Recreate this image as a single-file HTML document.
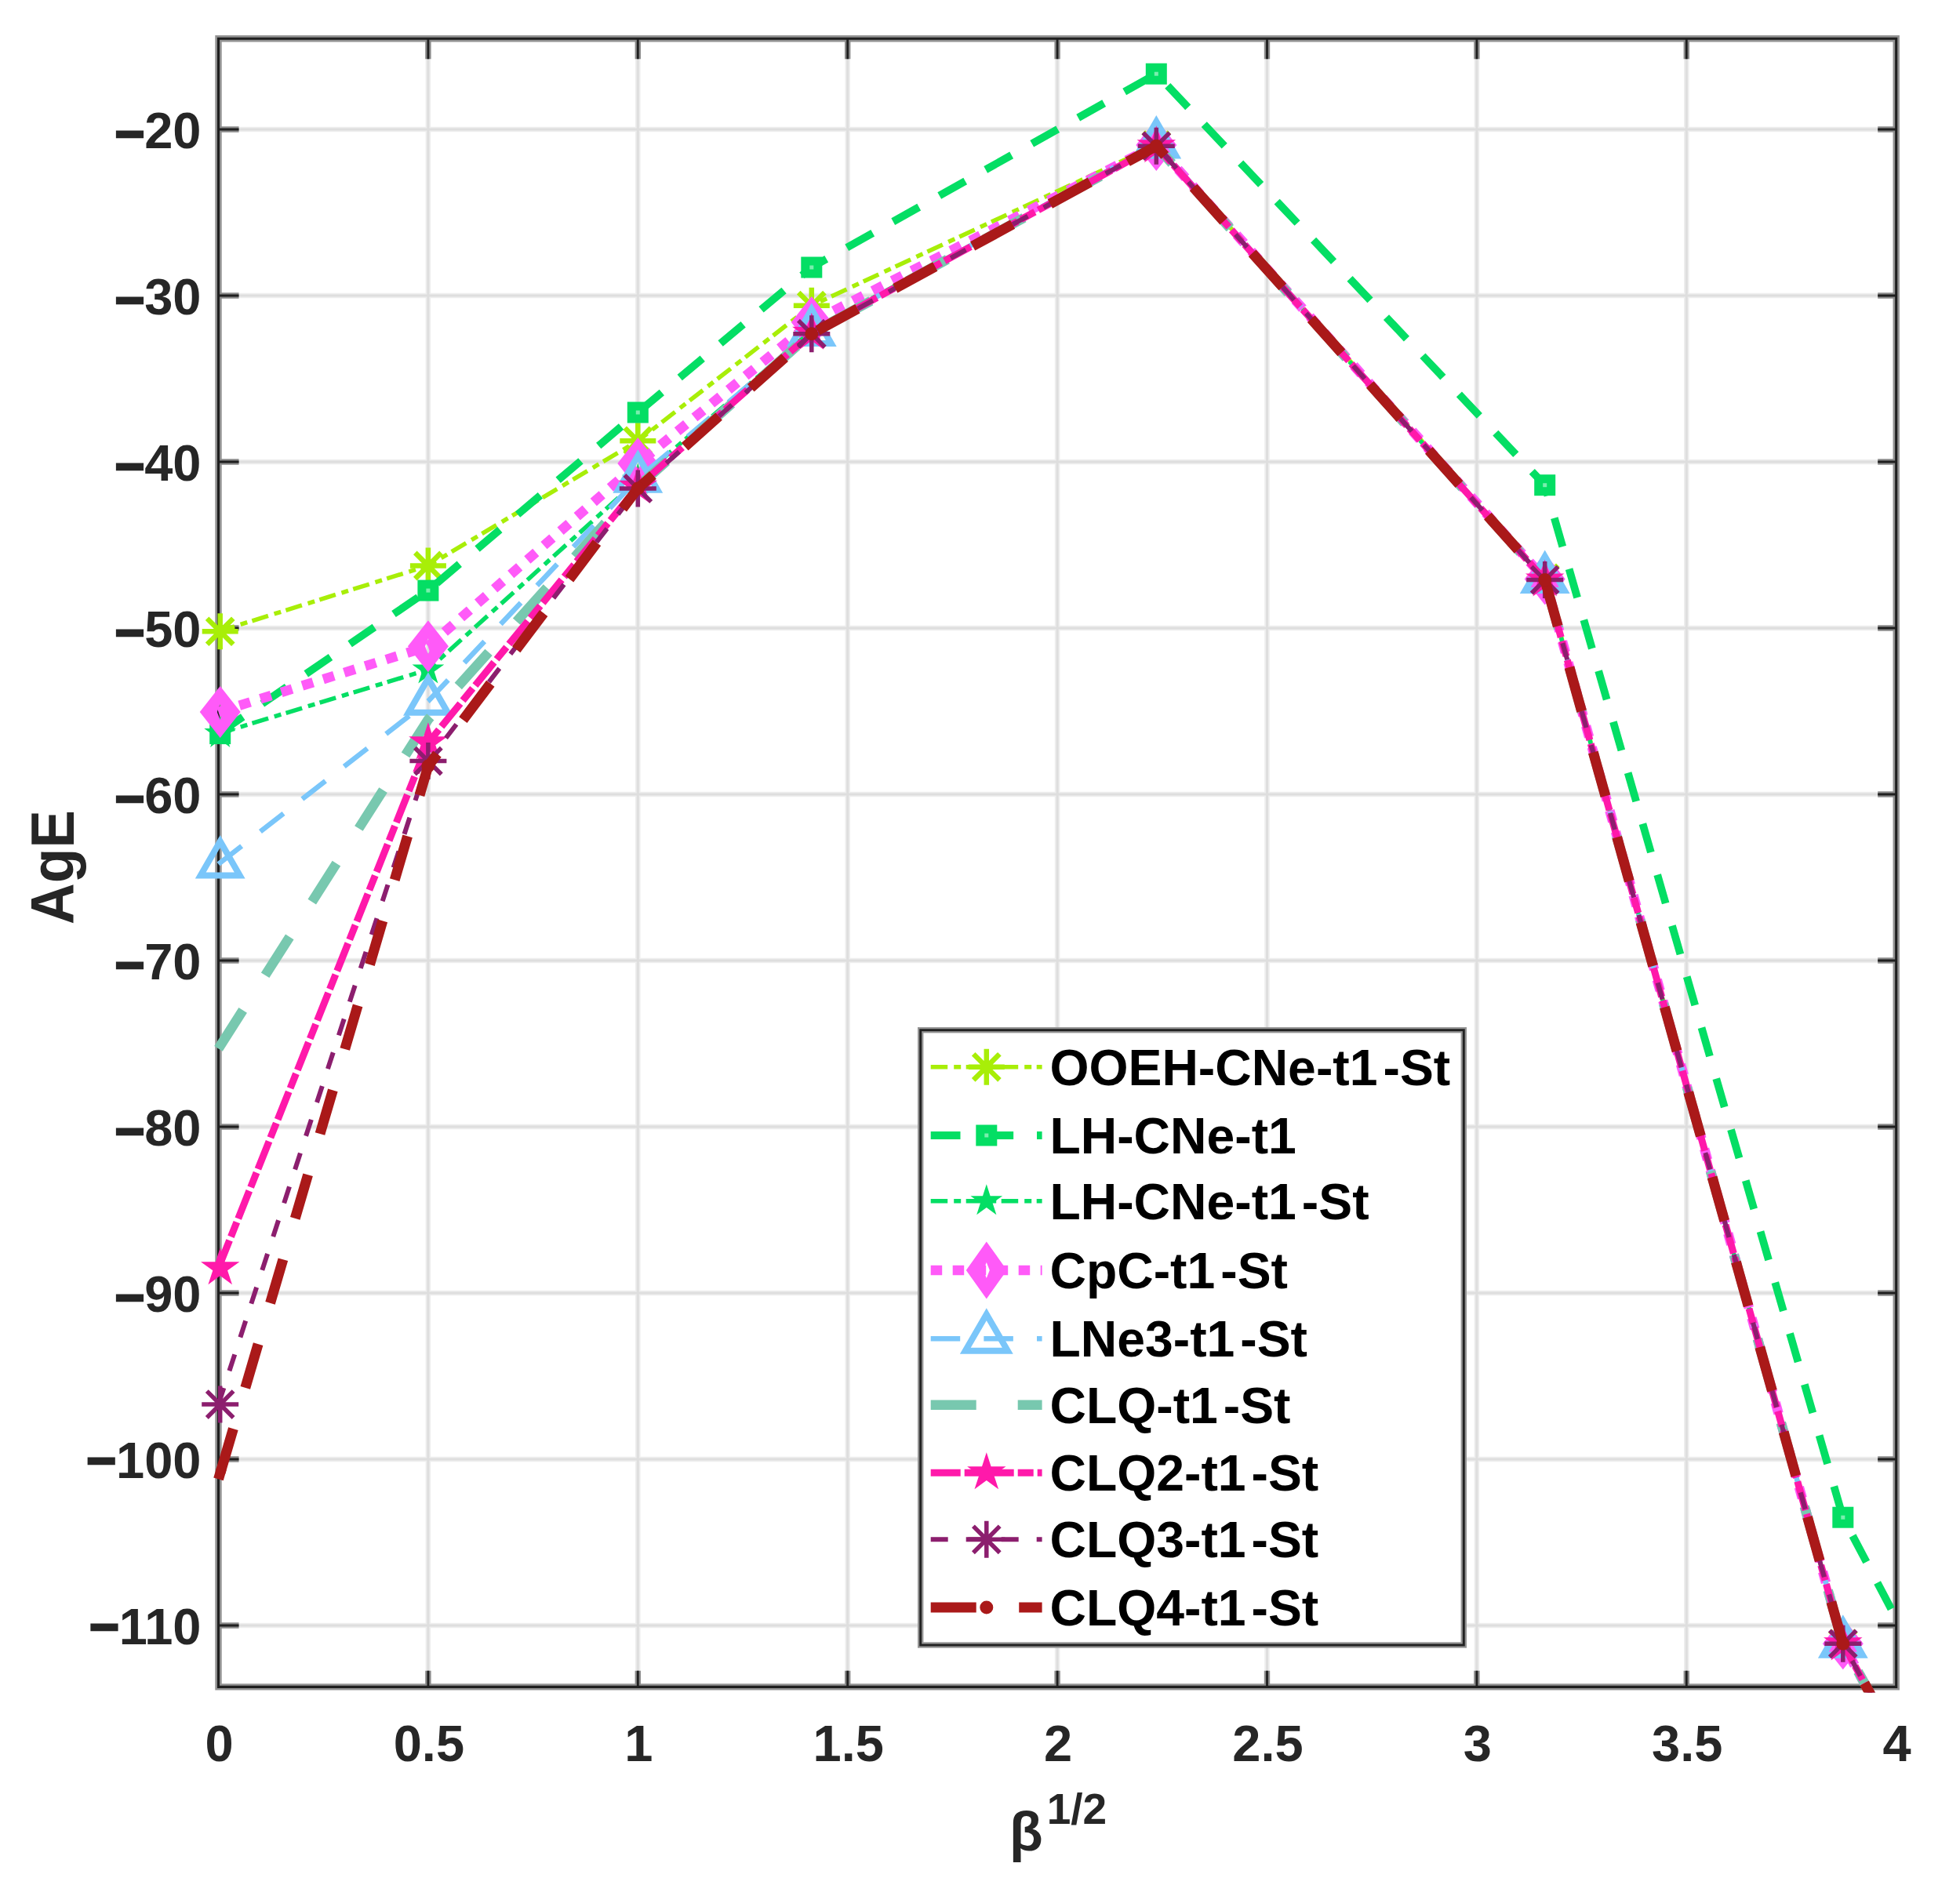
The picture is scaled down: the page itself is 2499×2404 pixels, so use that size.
<!DOCTYPE html>
<html lang="en"><head><meta charset="utf-8"><title>AgE vs sqrt(beta)</title>
<style>html,body{margin:0;padding:0;background:#fff}body{width:2499px;height:2404px;overflow:hidden}svg{display:block}text{font-family:"Liberation Sans", Arial, Helvetica, sans-serif;font-weight:bold}.tk{font-size:65px;fill:#262626}.lg{font-size:64.3px;fill:#000}</style></head><body>
<svg width="2499" height="2404" viewBox="0 0 2499 2404">
<rect width="2499" height="2404" fill="#fff"/>
<defs><clipPath id="cp"><rect x="270.5" y="46.3" width="2148.2" height="2112.1"/></clipPath></defs>
<path d="M545.9 49.3V2151.4M813.3 49.3V2151.4M1080.7 49.3V2151.4M1348.1 49.3V2151.4M1615.5 49.3V2151.4M1882.9 49.3V2151.4M2150.3 49.3V2151.4M278.5 2073H2417.7M278.5 1861H2417.7M278.5 1649H2417.7M278.5 1437H2417.7M278.5 1225H2417.7M278.5 1013H2417.7M278.5 801H2417.7M278.5 589H2417.7M278.5 377H2417.7M278.5 165H2417.7" stroke="#eeeeee" stroke-width="6.6" fill="none"/>
<path d="M545.9 49.3V2151.4M813.3 49.3V2151.4M1080.7 49.3V2151.4M1348.1 49.3V2151.4M1615.5 49.3V2151.4M1882.9 49.3V2151.4M2150.3 49.3V2151.4M278.5 2073H2417.7M278.5 1861H2417.7M278.5 1649H2417.7M278.5 1437H2417.7M278.5 1225H2417.7M278.5 1013H2417.7M278.5 801H2417.7M278.5 589H2417.7M278.5 377H2417.7M278.5 165H2417.7" stroke="#dedede" stroke-width="3" fill="none"/>
<path d="M278.5 49.3H2417.7V2151.4H278.5Z" stroke="#939393" stroke-width="8.4" fill="none" stroke-linejoin="miter"/>
<path d="M545.9 49.3V75.3M545.9 2151.4V2130.8M813.3 49.3V75.3M813.3 2151.4V2130.8M1080.7 49.3V75.3M1080.7 2151.4V2130.8M1348.1 49.3V75.3M1348.1 2151.4V2130.8M1615.5 49.3V75.3M1615.5 2151.4V2130.8M1882.9 49.3V75.3M1882.9 2151.4V2130.8M2150.3 49.3V75.3M2150.3 2151.4V2130.8M278.5 2073H304.5M2417.7 2073H2394.2M278.5 1861H304.5M2417.7 1861H2394.2M278.5 1649H304.5M2417.7 1649H2394.2M278.5 1437H304.5M2417.7 1437H2394.2M278.5 1225H304.5M2417.7 1225H2394.2M278.5 1013H304.5M2417.7 1013H2394.2M278.5 801H304.5M2417.7 801H2394.2M278.5 589H304.5M2417.7 589H2394.2M278.5 377H304.5M2417.7 377H2394.2M278.5 165H304.5M2417.7 165H2394.2" stroke="#8a8a8a" stroke-width="7.4" fill="none"/>
<path d="M278.5 49.3H2417.7V2151.4H278.5Z" stroke="#1f1f1f" stroke-width="3.1" fill="none" stroke-linejoin="miter"/>
<path d="M545.9 49.3V75.3M545.9 2151.4V2130.8M813.3 49.3V75.3M813.3 2151.4V2130.8M1080.7 49.3V75.3M1080.7 2151.4V2130.8M1348.1 49.3V75.3M1348.1 2151.4V2130.8M1615.5 49.3V75.3M1615.5 2151.4V2130.8M1882.9 49.3V75.3M1882.9 2151.4V2130.8M2150.3 49.3V75.3M2150.3 2151.4V2130.8M278.5 2073H304.5M2417.7 2073H2394.2M278.5 1861H304.5M2417.7 1861H2394.2M278.5 1649H304.5M2417.7 1649H2394.2M278.5 1437H304.5M2417.7 1437H2394.2M278.5 1225H304.5M2417.7 1225H2394.2M278.5 1013H304.5M2417.7 1013H2394.2M278.5 801H304.5M2417.7 801H2394.2M278.5 589H304.5M2417.7 589H2394.2M278.5 377H304.5M2417.7 377H2394.2M278.5 165H304.5M2417.7 165H2394.2" stroke="#1f1f1f" stroke-width="2.8" fill="none"/>
<text class="tk" x="256.5" y="2096.7" text-anchor="end"><tspan dy="0.3" stroke="#262626" stroke-width="2.6">−</tspan><tspan dy="-0.3">110</tspan></text>
<text class="tk" x="256.5" y="1884.7" text-anchor="end"><tspan dy="0.3" stroke="#262626" stroke-width="2.6">−</tspan><tspan dy="-0.3">100</tspan></text>
<text class="tk" x="256.5" y="1672.7" text-anchor="end"><tspan dy="4.5" stroke="#262626" stroke-width="2.6">−</tspan><tspan dy="-4.5">90</tspan></text>
<text class="tk" x="256.5" y="1460.7" text-anchor="end"><tspan dy="4.5" stroke="#262626" stroke-width="2.6">−</tspan><tspan dy="-4.5">80</tspan></text>
<text class="tk" x="256.5" y="1248.7" text-anchor="end"><tspan dy="4.5" stroke="#262626" stroke-width="2.6">−</tspan><tspan dy="-4.5">70</tspan></text>
<text class="tk" x="256.5" y="1036.7" text-anchor="end"><tspan dy="4.5" stroke="#262626" stroke-width="2.6">−</tspan><tspan dy="-4.5">60</tspan></text>
<text class="tk" x="256.5" y="824.7" text-anchor="end"><tspan dy="4.5" stroke="#262626" stroke-width="2.6">−</tspan><tspan dy="-4.5">50</tspan></text>
<text class="tk" x="256.5" y="612.7" text-anchor="end"><tspan dy="4.5" stroke="#262626" stroke-width="2.6">−</tspan><tspan dy="-4.5">40</tspan></text>
<text class="tk" x="256.5" y="400.7" text-anchor="end"><tspan dy="4.5" stroke="#262626" stroke-width="2.6">−</tspan><tspan dy="-4.5">30</tspan></text>
<text class="tk" x="256.5" y="188.7" text-anchor="end"><tspan dy="4.5" stroke="#262626" stroke-width="2.6">−</tspan><tspan dy="-4.5">20</tspan></text>
<text class="tk" x="279.5" y="2246" text-anchor="middle">0</text>
<text class="tk" x="546.9" y="2246" text-anchor="middle">0.5</text>
<text class="tk" x="814.3" y="2246" text-anchor="middle">1</text>
<text class="tk" x="1081.7" y="2246" text-anchor="middle">1.5</text>
<text class="tk" x="1349.1" y="2246" text-anchor="middle">2</text>
<text class="tk" x="1616.5" y="2246" text-anchor="middle">2.5</text>
<text class="tk" x="1883.9" y="2246" text-anchor="middle">3</text>
<text class="tk" x="2151.3" y="2246" text-anchor="middle">3.5</text>
<text class="tk" x="2418.7" y="2246" text-anchor="middle">4</text>
<text transform="translate(93.6 1106) rotate(-90) scale(1 1.065)" text-anchor="middle" style="font-size:73px;fill:#262626">AgE</text>
<text x="1287" y="2360" style="font-size:70px;fill:#262626">β<tspan dx="5" dy="-34" style="font-size:55px">1/2</tspan></text>
<g><polyline clip-path="url(#cp)" points="278.50,805.24 545.90,721.50 813.30,562.29 1034.82,389.72 1474.35,185.14 1969.69,737.40 2349.77,2096.32 2670.20,2685.68" fill="none" stroke="#a8ee08" stroke-width="5.5" stroke-dasharray="21.5 8 9 6.5" stroke-linejoin="round"/>
<path d="M257.7 805.2H303.7M280.7 782.2V828.2M264.1 788.7L297.3 821.8M264.1 821.8L297.3 788.7" stroke="#a8ee08" stroke-width="6.5" fill="none"/>
<path d="M522.9 721.5H568.9M545.9 698.5V744.5M529.3 704.9L562.5 738.1M529.3 738.1L562.5 704.9" stroke="#a8ee08" stroke-width="6.5" fill="none"/>
<path d="M790.3 562.3H836.3M813.3 539.3V585.3M796.7 545.7L829.9 578.9M796.7 578.9L829.9 545.7" stroke="#a8ee08" stroke-width="6.5" fill="none"/>
<path d="M1011.8 389.7H1057.8M1034.8 366.7V412.7M1018.2 373.1L1051.4 406.3M1018.2 406.3L1051.4 373.1" stroke="#a8ee08" stroke-width="6.5" fill="none"/>
<path d="M1451.3 185.1H1497.3M1474.3 162.1V208.1M1457.8 168.6L1490.9 201.7M1457.8 201.7L1490.9 168.6" stroke="#a8ee08" stroke-width="6.5" fill="none"/>
<path d="M1946.7 737.4H1992.7M1969.7 714.4V760.4M1953.1 720.8L1986.3 754M1953.1 754L1986.3 720.8" stroke="#a8ee08" stroke-width="6.5" fill="none"/>
<path d="M2326.8 2096.3H2372.8M2349.8 2073.3V2119.3M2333.2 2079.7L2366.4 2112.9M2333.2 2112.9L2366.4 2079.7" stroke="#a8ee08" stroke-width="6.5" fill="none"/>
</g>
<g><polyline clip-path="url(#cp)" points="278.50,935.62 545.90,753.09 813.30,526.04 1034.82,340.96 1474.35,94.19 1969.69,618.68 2349.77,1935.20 2670.20,2543.64" fill="none" stroke="#04de64" stroke-width="9.8" stroke-dasharray="37.8 29.85" stroke-linejoin="round"/>
<rect x="267.2" y="922.1" width="27" height="27" fill="#04de64"/><rect x="278.2" y="933.1" width="5" height="5" fill="#7aeeae"/>
<rect x="532.4" y="739.6" width="27" height="27" fill="#04de64"/><rect x="543.4" y="750.6" width="5" height="5" fill="#7aeeae"/>
<rect x="799.8" y="512.5" width="27" height="27" fill="#04de64"/><rect x="810.8" y="523.5" width="5" height="5" fill="#7aeeae"/>
<rect x="1021.3" y="327.5" width="27" height="27" fill="#04de64"/><rect x="1032.3" y="338.5" width="5" height="5" fill="#7aeeae"/>
<rect x="1460.8" y="80.7" width="27" height="27" fill="#04de64"/><rect x="1471.8" y="91.7" width="5" height="5" fill="#7aeeae"/>
<rect x="1956.2" y="605.2" width="27" height="27" fill="#04de64"/><rect x="1967.2" y="616.2" width="5" height="5" fill="#7aeeae"/>
<rect x="2336.3" y="1921.7" width="27" height="27" fill="#04de64"/><rect x="2347.3" y="1932.7" width="5" height="5" fill="#7aeeae"/>
</g>
<g><polyline clip-path="url(#cp)" points="278.50,935.62 545.90,854.00 813.30,612.32 1034.82,421.52 1474.35,186.20 1969.69,739.52 2349.77,2096.32 2670.20,2685.68" fill="none" stroke="#04de64" stroke-width="5.5" stroke-dasharray="21.5 8 9 6.5" stroke-linejoin="round"/>
<polygon points="280.7,914.1 285.5,929 301.1,929 288.5,938.2 293.3,953 280.7,943.8 268.1,953 272.9,938.2 260.3,929 275.9,929" fill="#04de64"/>
<polygon points="545.9,832.5 550.7,847.4 566.3,847.4 553.7,856.5 558.5,871.4 545.9,862.2 533.3,871.4 538.1,856.5 525.5,847.4 541.1,847.4" fill="#04de64"/>
<polygon points="813.3,590.8 818.1,605.7 833.7,605.7 821.1,614.9 825.9,629.7 813.3,620.5 800.7,629.7 805.5,614.9 792.9,605.7 808.5,605.7" fill="#04de64"/>
<polygon points="1034.8,400 1039.6,414.9 1055.3,414.9 1042.6,424.1 1047.5,438.9 1034.8,429.7 1022.2,438.9 1027,424.1 1014.4,414.9 1030,414.9" fill="#04de64"/>
<polygon points="1474.3,164.7 1479.2,179.6 1494.8,179.6 1482.2,188.7 1487,203.6 1474.3,194.4 1461.7,203.6 1466.5,188.7 1453.9,179.6 1469.5,179.6" fill="#04de64"/>
<polygon points="1969.7,718 1974.5,732.9 1990.1,732.9 1977.5,742.1 1982.3,756.9 1969.7,747.7 1957,756.9 1961.9,742.1 1949.2,732.9 1964.9,732.9" fill="#04de64"/>
<polygon points="2349.8,2074.8 2354.6,2089.7 2370.2,2089.7 2357.6,2098.9 2362.4,2113.7 2349.8,2104.5 2337.1,2113.7 2342,2098.9 2329.3,2089.7 2344.9,2089.7" fill="#04de64"/>
</g>
<g><polyline clip-path="url(#cp)" points="278.50,908.06 545.90,824.32 813.30,591.12 1034.82,410.92 1474.35,185.14 1969.69,738.46 2349.77,2096.32 2670.20,2685.68" fill="none" stroke="#ff5af8" stroke-width="12.5" stroke-dasharray="14.5 13.5" stroke-linejoin="round"/>
<path fill-rule="evenodd" fill="#ff5af8" d="M280.7 875.1L306.7 908.1L280.7 941.1L254.7 908.1ZM280.7 898.1L284.7 908.1L280.7 918.1L276.7 908.1Z"/>
<path fill-rule="evenodd" fill="#ff5af8" d="M545.9 791.3L571.9 824.3L545.9 857.3L519.9 824.3ZM545.9 814.3L549.9 824.3L545.9 834.3L541.9 824.3Z"/>
<path fill-rule="evenodd" fill="#ff5af8" d="M813.3 558.1L839.3 591.1L813.3 624.1L787.3 591.1ZM813.3 581.1L817.3 591.1L813.3 601.1L809.3 591.1Z"/>
<path fill-rule="evenodd" fill="#ff5af8" d="M1034.8 377.9L1060.8 410.9L1034.8 443.9L1008.8 410.9ZM1034.8 400.9L1038.8 410.9L1034.8 420.9L1030.8 410.9Z"/>
<path fill-rule="evenodd" fill="#ff5af8" d="M1474.3 152.1L1500.3 185.1L1474.3 218.1L1448.3 185.1ZM1474.3 175.1L1478.3 185.1L1474.3 195.1L1470.3 185.1Z"/>
<path fill-rule="evenodd" fill="#ff5af8" d="M1969.7 705.5L1995.7 738.5L1969.7 771.5L1943.7 738.5ZM1969.7 728.5L1973.7 738.5L1969.7 748.5L1965.7 738.5Z"/>
<path fill-rule="evenodd" fill="#ff5af8" d="M2349.8 2063.3L2375.8 2096.3L2349.8 2129.3L2323.8 2096.3ZM2349.8 2086.3L2353.8 2096.3L2349.8 2106.3L2345.8 2096.3Z"/>
</g>
<g><polyline clip-path="url(#cp)" points="278.50,1102.04 545.90,894.28 813.30,610.20 1034.82,423.64 1474.35,184.08 1969.69,738.46 2349.77,2096.32 2670.20,2685.68" fill="none" stroke="#7ac6fa" stroke-width="6.5" stroke-dasharray="37.5 30.15" stroke-linejoin="round"/>
<path d="M280.7 1073L305.7 1116.5L255.7 1116.5Z" fill="none" stroke="#7ac6fa" stroke-width="8" stroke-linejoin="miter"/>
<path d="M545.9 865.3L570.9 908.8L520.9 908.8Z" fill="none" stroke="#7ac6fa" stroke-width="8" stroke-linejoin="miter"/>
<path d="M813.3 581.2L838.3 624.7L788.3 624.7Z" fill="none" stroke="#7ac6fa" stroke-width="8" stroke-linejoin="miter"/>
<path d="M1034.8 394.6L1059.8 438.1L1009.8 438.1Z" fill="none" stroke="#7ac6fa" stroke-width="8" stroke-linejoin="miter"/>
<path d="M1474.3 155.1L1499.3 198.6L1449.3 198.6Z" fill="none" stroke="#7ac6fa" stroke-width="8" stroke-linejoin="miter"/>
<path d="M1969.7 709.5L1994.7 753L1944.7 753Z" fill="none" stroke="#7ac6fa" stroke-width="8" stroke-linejoin="miter"/>
<path d="M2349.8 2067.3L2374.8 2110.8L2324.8 2110.8Z" fill="none" stroke="#7ac6fa" stroke-width="8" stroke-linejoin="miter"/>
</g>
<g><polyline clip-path="url(#cp)" points="278.50,1337.36 545.90,917.60 813.30,620.80 1034.82,424.70 1474.35,186.20 1969.69,739.52 2349.77,2096.32 2670.20,2685.68" fill="none" stroke="#78c8af" stroke-width="12.5" stroke-dasharray="58 53" stroke-linejoin="round"/>
</g>
<g><polyline clip-path="url(#cp)" points="278.50,1617.20 545.90,947.28 813.30,620.80 1034.82,424.70 1474.35,186.20 1969.69,739.52 2349.77,2096.32 2670.20,2685.68" fill="none" stroke="#ff19aa" stroke-width="9" stroke-dasharray="38 5 20 5" stroke-linejoin="round"/>
<polygon points="280.7,1591.2 286.5,1609.2 305.4,1609.2 290.1,1620.3 296,1638.2 280.7,1627.1 265.4,1638.2 271.3,1620.3 256,1609.2 274.9,1609.2" fill="#ff19aa"/>
<polygon points="545.9,921.3 551.7,939.2 570.6,939.2 555.3,950.3 561.2,968.3 545.9,957.2 530.6,968.3 536.5,950.3 521.2,939.2 540.1,939.2" fill="#ff19aa"/>
<polygon points="813.3,594.8 819.1,612.8 838,612.8 822.7,623.9 828.6,641.8 813.3,630.7 798,641.8 803.9,623.9 788.6,612.8 807.5,612.8" fill="#ff19aa"/>
<polygon points="1034.8,398.7 1040.7,416.7 1059.5,416.7 1044.3,427.8 1050.1,445.7 1034.8,434.6 1019.5,445.7 1025.4,427.8 1010.1,416.7 1029,416.7" fill="#ff19aa"/>
<polygon points="1474.3,160.2 1480.2,178.2 1499.1,178.2 1483.8,189.3 1489.6,207.2 1474.3,196.1 1459.1,207.2 1464.9,189.3 1449.6,178.2 1468.5,178.2" fill="#ff19aa"/>
<polygon points="1969.7,713.5 1975.5,731.5 1994.4,731.5 1979.1,742.6 1985,760.6 1969.7,749.5 1954.4,760.6 1960.2,742.6 1945,731.5 1963.8,731.5" fill="#ff19aa"/>
<polygon points="2349.8,2070.3 2355.6,2088.3 2374.5,2088.3 2359.2,2099.4 2365.1,2117.4 2349.8,2106.3 2334.5,2117.4 2340.3,2099.4 2325,2088.3 2343.9,2088.3" fill="#ff19aa"/>
</g>
<g><polyline clip-path="url(#cp)" points="278.50,1791.04 545.90,970.60 813.30,622.92 1034.82,425.76 1474.35,186.20 1969.69,739.52 2349.77,2096.32 2670.20,2685.68" fill="none" stroke="#8c1e6e" stroke-width="6" stroke-dasharray="22 23" stroke-linejoin="round"/>
<path d="M257.2 1791H304.2M280.7 1767.5V1814.5M263.8 1774.1L297.6 1808M263.8 1808L297.6 1774.1" stroke="#8c1e6e" stroke-width="5.5" fill="none"/>
<path d="M522.4 970.6H569.4M545.9 947.1V994.1M529 953.7L562.8 987.5M529 987.5L562.8 953.7" stroke="#8c1e6e" stroke-width="5.5" fill="none"/>
<path d="M789.8 622.9H836.8M813.3 599.4V646.4M796.4 606L830.2 639.9M796.4 639.9L830.2 606" stroke="#8c1e6e" stroke-width="5.5" fill="none"/>
<path d="M1011.3 425.8H1058.3M1034.8 402.3V449.3M1017.9 408.8L1051.8 442.7M1017.9 442.7L1051.8 408.8" stroke="#8c1e6e" stroke-width="5.5" fill="none"/>
<path d="M1450.8 186.2H1497.8M1474.3 162.7V209.7M1457.4 169.3L1491.3 203.1M1457.4 203.1L1491.3 169.3" stroke="#8c1e6e" stroke-width="5.5" fill="none"/>
<path d="M1946.2 739.5H1993.2M1969.7 716V763M1952.7 722.6L1986.6 756.5M1952.7 756.5L1986.6 722.6" stroke="#8c1e6e" stroke-width="5.5" fill="none"/>
<path d="M2326.3 2096.3H2373.3M2349.8 2072.8V2119.8M2332.8 2079.4L2366.7 2113.3M2332.8 2113.3L2366.7 2079.4" stroke="#8c1e6e" stroke-width="5.5" fill="none"/>
</g>
<g><polyline clip-path="url(#cp)" points="278.50,1886.44 545.90,976.96 813.30,622.92 1034.82,425.76 1474.35,186.20 1969.69,739.52 2349.77,2096.32 2670.20,2685.68" fill="none" stroke="#aa1919" stroke-width="13" stroke-dasharray="58 54.53" stroke-dashoffset="-9" stroke-linejoin="round"/>
<path clip-path="url(#cp)" d="M278.50 1886.44L282.45 1873.01" stroke="#aa1919" stroke-width="13" fill="none"/>
<circle cx="545.9" cy="977" r="8.5" fill="#aa1919"/>
<circle cx="813.3" cy="622.9" r="8.5" fill="#aa1919"/>
<circle cx="1034.8" cy="425.8" r="8.5" fill="#aa1919"/>
<circle cx="1474.3" cy="186.2" r="8.5" fill="#aa1919"/>
<circle cx="1969.7" cy="739.5" r="8.5" fill="#aa1919"/>
<circle cx="2349.8" cy="2096.3" r="8.5" fill="#aa1919"/>
</g>
<rect x="1173.7" y="1313.7" width="692.6" height="784.3" fill="#fff" stroke="#959595" stroke-width="7.4"/>
<rect x="1173.7" y="1313.7" width="692.6" height="784.3" fill="none" stroke="#222" stroke-width="2.9"/>
<g><path d="M1186.7 1360.8H1328.6" stroke="#a8ee08" stroke-width="5.5" stroke-dasharray="21.5 8 9 6.5" fill="none"/>
<path d="M1234.8 1360.8H1280.8M1257.8 1337.8V1383.8M1241.2 1344.2L1274.4 1377.4M1241.2 1377.4L1274.4 1344.2" stroke="#a8ee08" stroke-width="6.5" fill="none"/>
<text class="lg" x="1338.5" y="1383.8">OOEH-CNe-t1<tspan dx="7">-St</tspan></text></g>
<g><path d="M1186.7 1448H1328.6" stroke="#04de64" stroke-width="9.8" stroke-dasharray="37.8 29.85" fill="none"/>
<rect x="1244.3" y="1434.5" width="27" height="27" fill="#04de64"/><rect x="1255.3" y="1445.5" width="5" height="5" fill="#7aeeae"/>
<text class="lg" x="1338.5" y="1471">LH-CNe-t1</text></g>
<g><path d="M1186.7 1531.8H1328.6" stroke="#04de64" stroke-width="5.5" stroke-dasharray="21.5 8 9 6.5" fill="none"/>
<polygon points="1257.8,1510.3 1262.6,1525.2 1278.2,1525.2 1265.6,1534.3 1270.4,1549.2 1257.8,1540 1245.2,1549.2 1250,1534.3 1237.4,1525.2 1253,1525.2" fill="#04de64"/>
<text class="lg" x="1338.5" y="1554.8">LH-CNe-t1<tspan dx="7">-St</tspan></text></g>
<g><path d="M1186.7 1619.9H1328.6" stroke="#ff5af8" stroke-width="12.5" stroke-dasharray="14.5 13.5" fill="none"/>
<path fill-rule="evenodd" fill="#ff5af8" d="M1257.8 1583.4L1283.8 1619.9L1257.8 1656.4L1231.8 1619.9ZM1257.8 1609.9L1261.8 1619.9L1257.8 1629.9L1253.8 1619.9Z"/>
<text class="lg" x="1338.5" y="1642.9">CpC-t1<tspan dx="7">-St</tspan></text></g>
<g><path d="M1186.7 1707.3H1328.6" stroke="#7ac6fa" stroke-width="6.5" stroke-dasharray="37.5 30.15" fill="none"/>
<path d="M1257.8 1676.3L1284.8 1722.8L1230.8 1722.8Z" fill="none" stroke="#7ac6fa" stroke-width="8" stroke-linejoin="miter"/>
<text class="lg" x="1338.5" y="1730.3">LNe3-t1<tspan dx="7">-St</tspan></text></g>
<g><path d="M1186.7 1791.8H1328.6" stroke="#78c8af" stroke-width="12.5" stroke-dasharray="58 53" fill="none"/>
<text class="lg" x="1338.5" y="1814.8">CLQ-t1<tspan dx="7">-St</tspan></text></g>
<g><path d="M1186.7 1878.2H1328.6" stroke="#ff19aa" stroke-width="9" stroke-dasharray="38 5 20 5" fill="none"/>
<polygon points="1257.8,1852.2 1263.6,1870.2 1282.5,1870.2 1267.2,1881.3 1273.1,1899.2 1257.8,1888.1 1242.5,1899.2 1248.4,1881.3 1233.1,1870.2 1252,1870.2" fill="#ff19aa"/>
<text class="lg" x="1338.5" y="1901.2">CLQ2-t1<tspan dx="7">-St</tspan></text></g>
<g><path d="M1186.7 1963.3H1328.6" stroke="#8c1e6e" stroke-width="6" stroke-dasharray="22 23" fill="none"/>
<path d="M1234.3 1963.3H1281.3M1257.8 1939.8V1986.8M1240.9 1946.4L1274.7 1980.2M1240.9 1980.2L1274.7 1946.4" stroke="#8c1e6e" stroke-width="5.5" fill="none"/>
<text class="lg" x="1338.5" y="1986.3">CLQ3-t1<tspan dx="7">-St</tspan></text></g>
<g><path d="M1186.7 2050.1H1328.6" stroke="#aa1919" stroke-width="13" stroke-dasharray="58 54.53" fill="none"/>
<circle cx="1257.8" cy="2050.1" r="8.5" fill="#aa1919"/>
<text class="lg" x="1338.5" y="2073.1">CLQ4-t1<tspan dx="7">-St</tspan></text></g>
</svg></body></html>
